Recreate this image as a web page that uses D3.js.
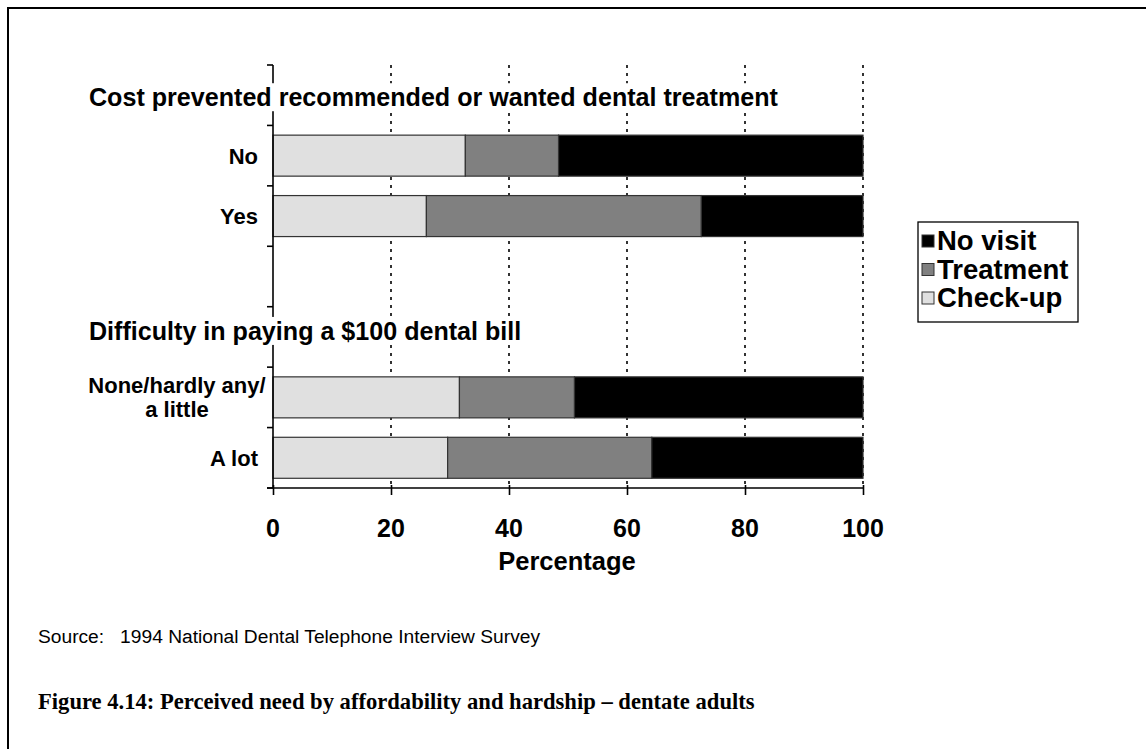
<!DOCTYPE html>
<html><head><meta charset="utf-8">
<script src="https://cdn.jsdelivr.net/npm/d3@7"></script>
<style>body{margin:0;background:#fff}svg{display:block}</style>
</head><body><svg id="c" width="1146" height="749"></svg>
<script>
const rows = ["t1","No","Yes","gap","t2","None","Alot"];
const rowLabels = {"No":["No"],"Yes":["Yes"],"None":["None/hardly any/","a little"],"Alot":["A lot"]};
const groupTitles = {"t1":"Cost prevented recommended or wanted dental treatment","t2":"Difficulty in paying a $100 dental bill"};
const categories = ["No","Yes","None","Alot"];
const checkup   = [32.6, 26.0, 31.6, 29.6];
const treatment = [15.8, 46.6, 19.5, 34.6];
const novisit   = [51.6, 27.4, 48.9, 35.8];
const seriesNames = ["Check-up","Treatment","No visit"];
const seriesColors = ["#e0e0e0","#808080","#000000"];
const xTicks = [0,20,40,60,80,100];

const SANS = "Liberation Sans, Arial, sans-serif";
const svg = d3.select("#c");
svg.append("rect").attr("x",0).attr("y",0).attr("width",1146).attr("height",749).attr("fill","#fff");
svg.append("rect").attr("x",8).attr("y",8).attr("width",1160).attr("height",780)
  .attr("fill","none").attr("stroke","#000").attr("stroke-width",2);

const x = d3.scaleLinear().domain([0,100]).range([273,863]);
const y = d3.scaleBand().domain(rows).range([65,488]).padding(0);
const step = y.step();
const barH = 41;

// gridlines
svg.append("g").selectAll("line").data(xTicks.filter(d=>d>0)).join("line")
  .attr("x1",d=>x(d)).attr("x2",d=>x(d)).attr("y1",65).attr("y2",488)
  .attr("stroke","#000").attr("stroke-width",1.6).attr("stroke-dasharray","3,5");

// stacked bars
const data = categories.map((c,i)=>({cat:c, "Check-up":checkup[i], "Treatment":treatment[i], "No visit":novisit[i]}));
const stack = d3.stack().keys(seriesNames)(data);
const g = svg.append("g");
stack.forEach((s,si)=>{
  g.selectAll(null).data(s).join("rect")
    .attr("x",d=>x(d[0])).attr("width",d=>x(d[1])-x(d[0]))
    .attr("y",d=>y(d.data.cat)+(step-barH)/2).attr("height",barH)
    .attr("fill",seriesColors[si]).attr("stroke","#333").attr("stroke-width",1.2);
});

// y axis
const ya = svg.append("g").attr("stroke","#000").attr("stroke-width",1.6);
ya.append("line").attr("x1",273).attr("x2",273).attr("y1",65).attr("y2",488);
const bounds = rows.map(r=>y(r)).concat([488]);
ya.selectAll(null).data(bounds).join("line")
  .attr("x1",267).attr("x2",273).attr("y1",d=>d).attr("y2",d=>d);

// x axis
const xa = svg.append("g").attr("transform","translate(0,488)").call(d3.axisBottom(x).tickValues(xTicks).tickSize(7).tickFormat(""));
xa.select(".domain").attr("stroke","#000").attr("stroke-width",1.6).attr("d","M267,0H863");
xa.selectAll(".tick line").attr("stroke","#000").attr("stroke-width",1.6).attr("y1",-3);
svg.append("g").selectAll("text").data(xTicks).join("text")
  .attr("x",d=>x(d)).attr("y",537).attr("text-anchor","middle")
  .attr("font-family",SANS).attr("font-weight","bold").attr("font-size",25)
  .text(d=>d);
svg.append("text").attr("x",567).attr("y",570).attr("text-anchor","middle")
  .attr("font-family",SANS).attr("font-weight","bold").attr("font-size",25.5)
  .text("Percentage");

// category labels
Object.entries(rowLabels).forEach(([k,lines])=>{
  const cy = y(k)+step/2;
  const t = svg.append("text").attr("text-anchor","middle")
    .attr("font-family",SANS).attr("font-weight","bold").attr("font-size",22);
  const n = lines.length;
  lines.forEach((l,i)=>{
    t.append("tspan").attr("x", n>1 ? 177 : 258).attr("y", cy + 8 + (i-(n-1)/2)*24).text(l);
  });
  if(n===1) t.attr("text-anchor","end");
});

// group titles with white background
Object.entries(groupTitles).forEach(([k,txt],i)=>{
  const cy = y(k)+step/2 + (i===0?2:-6);
  const t = svg.append("text").attr("x",89).attr("y",cy+9)
    .attr("font-family",SANS).attr("font-weight","bold").attr("font-size",25.1)
    .text(txt);
  const bb = t.node().getBBox();
  svg.insert("rect", function(){return t.node();}).attr("x",bb.x-2).attr("y",bb.y).attr("width",bb.width+4).attr("height",bb.height)
    .attr("fill","#fff");
});

// legend
const lg = svg.append("g");
lg.append("rect").attr("x",918).attr("y",222).attr("width",160).attr("height",100)
  .attr("fill","#fff").attr("stroke","#000").attr("stroke-width",1.3);
const legOrder = ["No visit","Treatment","Check-up"];
legOrder.forEach((nm,i)=>{
  const cy = 241 + i*28.5;
  lg.append("rect").attr("x",922).attr("y",cy-6).attr("width",12).attr("height",12)
    .attr("fill",seriesColors[seriesNames.indexOf(nm)]).attr("stroke","#333").attr("stroke-width",1);
  lg.append("text").attr("x",937).attr("y",cy+9)
    .attr("font-family",SANS).attr("font-weight","bold").attr("font-size",27.5)
    .text(nm);
});

// source & caption
svg.append("text").attr("x",38).attr("y",643)
  .attr("font-family",SANS).attr("font-size",19.2)
  .attr("xml:space","preserve").text("Source:   1994 National Dental Telephone Interview Survey");
svg.append("text").attr("x",38).attr("y",709)
  .attr("font-family","Liberation Serif, Times New Roman, serif").attr("font-weight","bold").attr("font-size",22.6)
  .text("Figure 4.14: Perceived need by affordability and hardship – dentate adults");
</script></body></html>
